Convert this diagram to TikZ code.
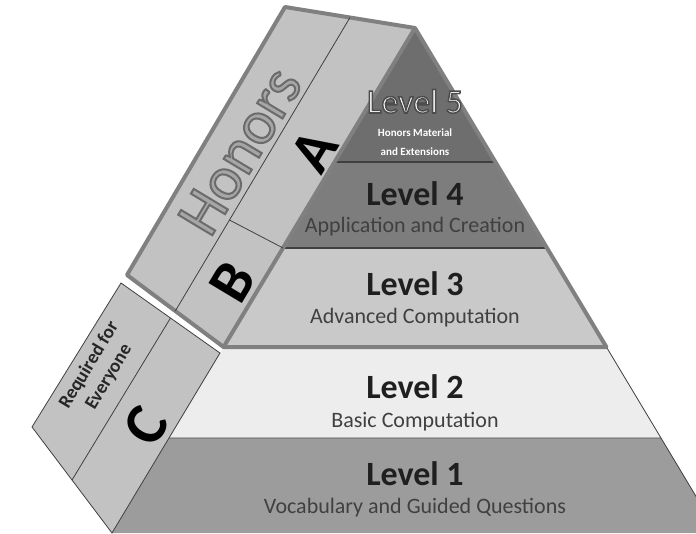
\documentclass[tikz,border=0pt]{standalone}
\usepackage{fontspec}
\setmainfont{Carlito}
\usetikzlibrary{positioning,calc}
\colorlet{lvlfive}{black!57}
\colorlet{lvlfour}{black!51}
\colorlet{lvlthree}{black!21}
\colorlet{lvltwo}{black!7}
\colorlet{lvlone}{black!39}
\colorlet{bandfill}{black!24}
\colorlet{bandedge}{black!50}
\colorlet{honorsgray}{black!35}
% stroked and filled glyphs: #1 is the grey level of the outline, #2 its width
\newcommand{\outlinetext}[3]{\special{pdf:literal direct #1 G 2 Tr #2 w}#3\special{pdf:literal direct 0 Tr}}
\tikzset{
	title/.style={font=\bfseries\fontsize{34}{36}\selectfont, text=black!88, inner sep=0, anchor=base},
	subtitle/.style={font=\fontsize{22}{24}\selectfont, text=black!75, inner sep=0, anchor=base},
	note/.style={font=\bfseries\fontsize{11}{12}\selectfont, text=white, inner sep=0, anchor=base},
	letter/.style={font=\bfseries\fontsize{60}{60}\selectfont, rotate=59, inner sep=0},
	thinline/.style={draw=black!75, line width=0.8pt},
}

\begin{document}
\begin{tikzpicture}[x=1pt,y=-1pt]
	\useasboundingbox (0,0) rectangle (696,533);
	\clip (0,0) rectangle (696,533);
	% Define pyramid corners
	\coordinate (apex) at (415,28);
	\coordinate (bl) at (112,533);
	\coordinate (br) at (718,533);
	% Level boundaries on both sides
	\foreach \n/\t in {54/0.2653,43/0.4356,32/0.6317,21/0.8119}{
		\coordinate (L\n) at ($(apex)!\t!(bl)$);
		\coordinate (R\n) at ($(apex)!\t!(br)$);
	}
	% Pyramid levels
	\fill[lvlone] (L21) -- (R21) -- (br) -- (bl) -- cycle;
	\fill[lvltwo] (L32) -- (R32) -- (R21) -- (L21) -- cycle;
	\fill[lvlthree] (L43) -- (R43) -- (R32) -- (L32) -- cycle;
	\fill[lvlfour] (L54) -- (R54) -- (R43) -- (L43) -- cycle;
	\fill[lvlfive] (apex) -- (R54) -- (L54) -- cycle;
	\draw[thinline] (L21) -- (R21) (R32) -- (br);
	\draw[black!75, line width=1.6pt] (L54) -- (R54) (L43) -- (R43);
	% Frame round the upper three levels
	\draw[bandedge, line width=4pt, line join=round] (apex) -- (R32) -- (L32);
	% Lower side box (C)
	\coordinate (ct) at (121,283);
	\coordinate (cr) at ($(apex)!0.6436!(bl)$);
	\coordinate (cb) at (32,427);
	\filldraw[fill=bandfill, thinline] (ct) -- (cr) -- (bl) -- (cb) -- cycle;
	\draw[thinline] ($(ct)!0.5!(cr)$) -- ($(cb)!0.5!(bl)$);
	% Upper side box (Honors)
	\coordinate (ht) at (285,7);
	\coordinate (hb) at (127,275);
	\filldraw[fill=bandfill, draw=bandedge, line width=4pt, line join=round] (ht) -- (apex) -- (L32) -- (hb) -- cycle;
	\coordinate (dtop) at ($(ht)!0.5!(apex)$);
	\coordinate (dbot) at ($(hb)!0.5!(L32)$);
	\draw[thinline] (dtop) -- (dbot);
	\draw[thinline] ($(dtop)!0.69!(dbot)$) -- (L43);
	% Side labels
	\node[rotate=59, font=\fontsize{62}{62}\selectfont, text=honorsgray, inner sep=0] (honors) at (240,151) {\outlinetext{0.42}{2}{Honors}};
	\node[letter] (A) at (314,151) {A};
	\node[letter] (B) at (232,282) {B};
	\node[letter] (C) at (146,426) {C};
	\node[rotate=59, align=center, font=\bfseries\fontsize{19}{23}\selectfont, text=black!85, inner sep=0] (req) at (99,371) {Required for\\Everyone};
	% Level texts
	\node[title, font=\fontsize{34}{36}\selectfont, text=white] (lvl5) at (415,113) {\outlinetext{0.3}{1.5}{Level 5}};
	\node[note] (lvl5a) at ([yshift=-23pt]lvl5.base) {Honors Material};
	\node[note] (lvl5b) at ([yshift=-19pt]lvl5a.base) {and Extensions};
	\node[title] (lvl4) at (415,205) {Level 4};
	\node[subtitle] (lvl4sub) at ([yshift=-27pt]lvl4.base) {Application and Creation};
	\node[title] (lvl3) at (415,295) {Level 3};
	\node[subtitle] (lvl3sub) at ([yshift=-28pt]lvl3.base) {Advanced Computation};
	\node[title] (lvl2) at (415,398) {Level 2};
	\node[subtitle] (lvl2sub) at ([yshift=-29pt]lvl2.base) {Basic Computation};
	\node[title] (lvl1) at (415,485) {Level 1};
	\node[subtitle] (lvl1sub) at ([yshift=-28pt]lvl1.base) {Vocabulary and Guided Questions};
\end{tikzpicture}
\end{document}
